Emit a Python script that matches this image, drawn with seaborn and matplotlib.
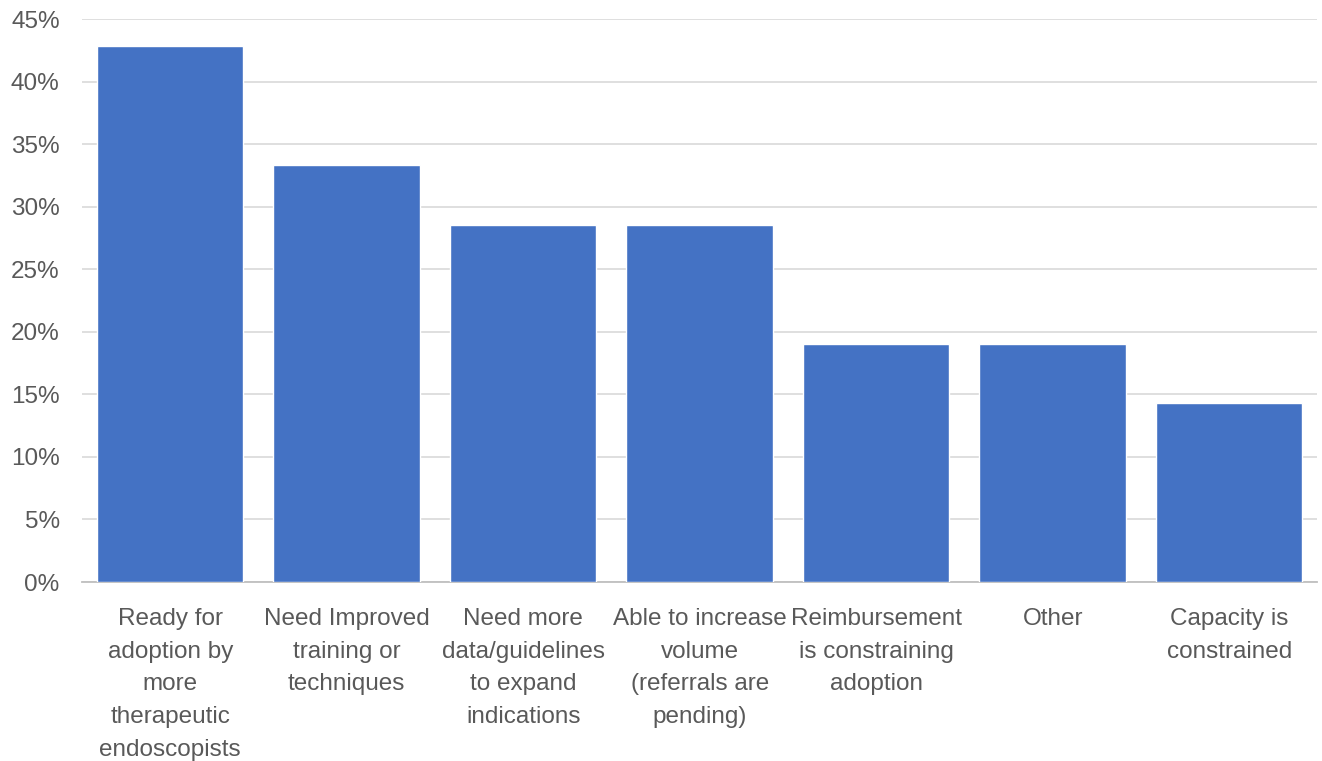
import matplotlib
matplotlib.use("Agg")
import matplotlib.pyplot as plt
import seaborn as sns
import pandas as pd
from matplotlib.ticker import PercentFormatter

# --- Data ---
categories = [
    "Ready for\nadoption by\nmore\ntherapeutic\nendoscopists",
    "Need Improved\ntraining or\ntechniques",
    "Need more\ndata/guidelines\nto expand\nindications",
    "Able to increase\nvolume\n(referrals are\npending)",
    "Reimbursement\nis constraining\nadoption",
    "Other",
    "Capacity is\nconstrained",
]
shares = [42.86, 33.33, 28.57, 28.57, 19.05, 19.05, 14.29]
y_ticks = [0, 5, 10, 15, 20, 25, 30, 35, 40, 45]

df = pd.DataFrame({"category": categories, "share": shares})

sns.set_style("white")
plt.rcParams["font.family"] = ["Liberation Sans", "DejaVu Sans"]

fig = plt.figure(figsize=(13.22, 7.61), dpi=100)
ax = fig.add_axes([0.062, 0.2352, 0.9345, 0.7398])

sns.barplot(data=df, x="category", y="share", color="#4472C4",
            saturation=1, width=0.83, ax=ax, zorder=3)

ax.set_ylim(0, 45)
ax.set_yticks(y_ticks)
ax.yaxis.set_major_formatter(PercentFormatter(decimals=0))
ax.grid(axis="y", color="#D9D9D9", linewidth=1.2, zorder=0)
ax.set_xlim(-0.5, len(categories) - 0.5)

for side in ["top", "right", "left"]:
    ax.spines[side].set_visible(False)
ax.spines["bottom"].set_color("#BFBFBF")
ax.spines["bottom"].set_linewidth(1.3)

ax.tick_params(axis="both", length=0, colors="#595959", labelsize=17.5)
ax.tick_params(axis="x", pad=19)
ax.tick_params(axis="y", pad=16)
for lbl in ax.get_xticklabels():
    lbl.set_linespacing(1.62)
    lbl.set_va("top")
ax.set_xlabel("")
ax.set_ylabel("")

fig.savefig("out.png", dpi=100)
